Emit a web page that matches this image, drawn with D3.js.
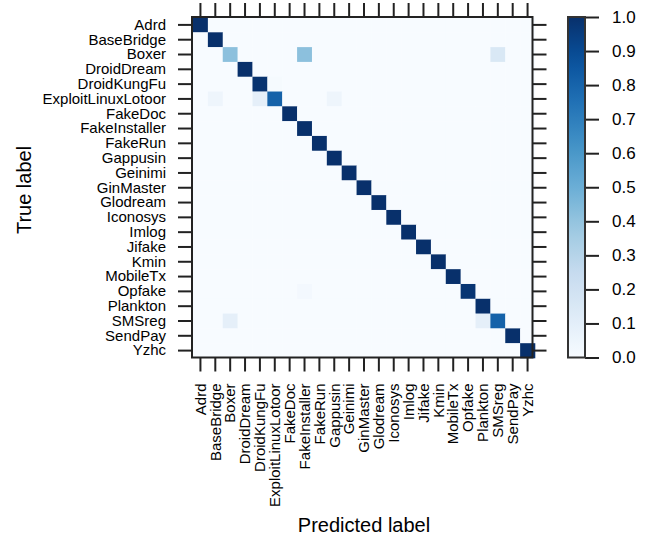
<!DOCTYPE html>
<html>
<head>
<meta charset="utf-8">
<script src="https://cdn.jsdelivr.net/npm/d3@7"></script>
<style>
  html, body { margin: 0; padding: 0; background: #ffffff; }
  svg { display: block; }
  text { font-family: "Liberation Sans", Arial, sans-serif; fill: #000; }
</style>
</head>
<body>
<svg id="chart" width="651" height="539"></svg>
<script>
// ---- data ----
const classLabels = ["Adrd","BaseBridge","Boxer","DroidDream","DroidKungFu","ExploitLinuxLotoor",
  "FakeDoc","FakeInstaller","FakeRun","Gappusin","Geinimi","GinMaster","Glodream","Iconosys",
  "Imlog","Jifake","Kmin","MobileTx","Opfake","Plankton","SMSreg","SendPay","Yzhc"];

// diagonal (correctly classified fraction per true label)
const diagonalValues = [1.0, 1.0, 0.42, 1.0, 0.99, 0.81, 1.0, 1.0, 1.0, 1.0, 1.0, 1.0,
  1.0, 1.0, 1.0, 1.0, 1.0, 1.0, 0.98, 1.0, 0.81, 1.0, 1.0];

// off-diagonal entries: [true label, predicted label, fraction]
const offDiagonal = [
  ["Boxer", "FakeInstaller", 0.42],
  ["Boxer", "SMSreg", 0.15],
  ["DroidKungFu", "ExploitLinuxLotoor", 0.01],
  ["ExploitLinuxLotoor", "BaseBridge", 0.045],
  ["ExploitLinuxLotoor", "DroidKungFu", 0.09],
  ["ExploitLinuxLotoor", "Gappusin", 0.045],
  ["Opfake", "FakeInstaller", 0.02],
  ["SMSreg", "Boxer", 0.09],
  ["SMSreg", "Plankton", 0.09]
];

const colorbarTicks = [0.0, 0.1, 0.2, 0.3, 0.4, 0.5, 0.6, 0.7, 0.8, 0.9, 1.0];

// ---- build cells ----
const cells = [];
classLabels.forEach((t, i) => {
  classLabels.forEach((p, j) => {
    cells.push({ t, p, v: i === j ? diagonalValues[i] : 0 });
  });
});
offDiagonal.forEach(([t, p, v]) => {
  const c = cells.find(d => d.t === t && d.p === p);
  c.v = v;
});

const svg = d3.select("#chart");

const blues = d3.schemeBlues[9];
const color = d3.scaleLinear()
  .domain(d3.range(9).map(k => k / 8))
  .range(blues)
  .interpolate(d3.interpolateRgb)
  .clamp(true);

const x = d3.scaleBand().domain(classLabels).range([193, 535]).padding(0);
const y = d3.scaleBand().domain(classLabels).range([17.5, 358]).padding(0);

const frame = { left: 192, top: 17, right: 532.5, bottom: 357.5 };

// cells
svg.append("g").selectAll("rect")
  .data(cells)
  .join("rect")
  .attr("x", d => x(d.p))
  .attr("y", d => y(d.t))
  .attr("width", x.bandwidth() + 0.3)
  .attr("height", y.bandwidth() + 0.3)
  .attr("fill", d => color(d.v));

// axes (ticks on all four sides)
const tickLen = 14;
const axisColor = "#222";

function styleAxis(g) {
  g.select(".domain").remove();
  g.selectAll(".tick line").attr("stroke", axisColor).attr("stroke-width", 2);
  g.selectAll(".tick text").style("font-size", "15px").style("font-family", "Liberation Sans, Arial, sans-serif").attr("fill", "#000");
}

svg.append("g")
  .attr("transform", `translate(${frame.left},0)`)
  .call(d3.axisLeft(y).tickSize(tickLen).tickPadding(12))
  .call(styleAxis);

const bottomAxis = svg.append("g")
  .attr("transform", `translate(0,${frame.bottom})`)
  .call(d3.axisBottom(x).tickSize(tickLen).tickPadding(12))
  .call(styleAxis);
bottomAxis.selectAll(".tick text")
  .attr("transform", "rotate(-90)")
  .attr("x", -(tickLen + 12))
  .attr("y", 0)
  .attr("dy", "0.35em")
  .attr("text-anchor", "end");

svg.append("g")
  .attr("transform", `translate(0,${frame.top})`)
  .call(d3.axisTop(x).tickSize(tickLen).tickFormat(""))
  .call(styleAxis);

svg.append("g")
  .attr("transform", `translate(${frame.right},0)`)
  .call(d3.axisRight(y).tickSize(tickLen).tickFormat(""))
  .call(styleAxis);

// frame
svg.append("rect")
  .attr("x", frame.left)
  .attr("y", frame.top)
  .attr("width", frame.right - frame.left)
  .attr("height", frame.bottom - frame.top)
  .attr("fill", "none")
  .attr("stroke", axisColor)
  .attr("stroke-width", 2);

// axis titles
svg.append("text")
  .attr("x", 364)
  .attr("y", 532)
  .attr("text-anchor", "middle")
  .style("font-size", "20px")
  .text("Predicted label");

svg.append("text")
  .attr("transform", "translate(31,190) rotate(-90)")
  .attr("text-anchor", "middle")
  .style("font-size", "20px")
  .text("True label");

// colorbar
const cb = { x: 568, w: 17, top: 17, bottom: 357.5 };
const cbScale = d3.scaleLinear().domain([0, 1]).range([cb.bottom, cb.top]);

const defs = svg.append("defs");
const grad = defs.append("linearGradient")
  .attr("id", "cbgrad")
  .attr("x1", "0").attr("y1", "1").attr("x2", "0").attr("y2", "0");
d3.range(0, 1.0001, 0.05).forEach(v => {
  grad.append("stop").attr("offset", v).attr("stop-color", color(v));
});

svg.append("rect")
  .attr("x", cb.x).attr("y", cb.top)
  .attr("width", cb.w).attr("height", cb.bottom - cb.top)
  .attr("fill", "url(#cbgrad)");

const cbAxis = svg.append("g")
  .attr("transform", `translate(${cb.x + cb.w},0)`)
  .call(d3.axisRight(cbScale).tickValues(colorbarTicks).tickSize(tickLen).tickPadding(13).tickFormat(d3.format(".1f")));
cbAxis.select(".domain").remove();
cbAxis.selectAll(".tick line").attr("stroke", axisColor).attr("stroke-width", 2);
cbAxis.selectAll(".tick text").style("font-size", "17px").style("font-family", "Liberation Sans, Arial, sans-serif").attr("fill", "#000");

svg.append("rect")
  .attr("x", cb.x).attr("y", cb.top)
  .attr("width", cb.w).attr("height", cb.bottom - cb.top)
  .attr("fill", "none")
  .attr("stroke", "#333")
  .attr("stroke-width", 2);
</script>
</body>
</html>
